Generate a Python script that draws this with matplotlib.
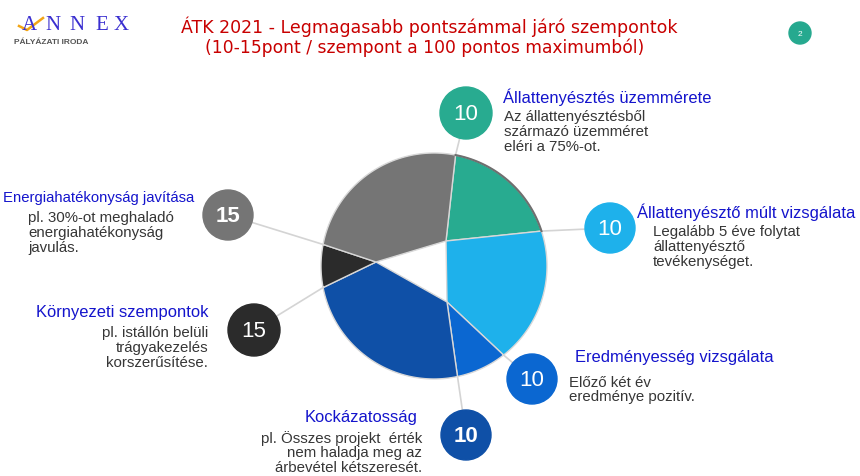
import numpy as np
import matplotlib
matplotlib.use("Agg")
import matplotlib.pyplot as plt
from matplotlib.patches import Circle, Polygon

plt.rcParams['font.family'] = ['Liberation Sans', 'DejaVu Sans']

# adatok
titles = ["Állattenyésztés üzemmérete", "Állattenyésztő múlt vizsgálata",
          "Eredményesség vizsgálata", "Kockázatosság",
          "Környezeti szempontok", "Energiahatékonyság javítása"]
bodies = ["Az állattenyésztésből\nszármazó üzemméret\neléri a 75%-ot.",
          "Legalább 5 éve folytat\nállattenyésztő\ntevékenységet.",
          "Előző két év\neredménye pozitív.",
          "pl. Összes projekt  érték\nnem haladja meg az\nárbevétel kétszeresét.",
          "pl. istállón belüli\ntrágyakezelés\nkorszerűsítése.",
          "pl. 30%-ot meghaladó\nenergiahatékonyság\njavulás."]
points = [10, 10, 10, 10, 15, 15]
slice_deg = [61, 70, 26, 91, 22, 90]   # szeletek szöge a képen
start_deg = 79

colors = ['#28ab90', '#1eb1eb', '#0b67d1', '#0f50a7', '#2b2b2b', '#757575']
bold_num = [False, False, False, True, False, True]

# elrendezés (pixelben)
cx, cy, R = 434, 267, 113
apex_a, apex_b, apex_c = (446, 242), (447, 303), (376, 263)
inner = [[apex_a], [apex_b, apex_a], [apex_b], [apex_c, apex_b],
         [apex_c], [apex_a, apex_c]]
badge_xy = [(466, 114), (610, 229), (532, 380), (466, 436), (254, 331), (228, 216)]
badge_r = [26, 25, 25, 25, 26, 25]
title_xy = [(503, 97, 'left'), (637, 212, 'left'), (575, 358, 'left'),
            (418, 418, 'right'), (209, 313, 'right'), (3, 198, 'left')]
title_fs = [11.85, 11.85, 11.85, 11.85, 11.85, 10.7]
body_xy = [(504, 132, 'left'), (653, 247, 'left'), (569, 390, 'left'),
           (422, 453, 'right'), (208, 348, 'right'), (28, 233, 'left')]

fig = plt.figure(figsize=(8.6, 4.77), dpi=100)
ax = fig.add_axes([0, 0, 1, 1])
ax.set_xlim(0, 860)
ax.set_ylim(477, 0)
ax.axis('off')

def rim(a):
    return (cx + R * np.cos(np.radians(a)), cy - R * np.sin(np.radians(a)))

# szeletek
a0 = start_deg
for i, d in enumerate(slice_deg):
    angs = np.linspace(a0, a0 - d, 60)
    pts = [rim(a) for a in angs] + inner[i]
    ax.add_patch(Polygon(pts, closed=True, facecolor=colors[i],
                         edgecolor='#d8d8d8', lw=1, zorder=2))
    # összekötő vonal a jelvényhez
    bx, by = badge_xy[i]
    rx, ry = rim(a0)
    ax.plot([bx, rx], [by, ry], color='#d4d4d4', lw=1.2, zorder=1)
    a0 -= d

# a felső szelet sötét pereme
angs = np.linspace(start_deg, start_deg - slice_deg[0], 40)
ax.plot([rim(a)[0] for a in angs], [rim(a)[1] for a in angs],
        color='#6f6f6f', lw=1.5, zorder=3)

# jelvények, feliratok
for i in range(len(titles)):
    bx, by = badge_xy[i]
    ax.add_patch(Circle((bx, by), badge_r[i], color=colors[i], zorder=4))
    ax.text(bx, by + 1, str(points[i]), color='white', fontsize=16,
            fontweight='bold' if bold_num[i] else 'normal',
            ha='center', va='center', zorder=5)
    tx, ty, ha = title_xy[i]
    ax.text(tx, ty, titles[i], color='#1414cc', fontsize=title_fs[i],
            ha=ha, va='center')
    x, y, ha = body_xy[i]
    ax.text(x, y, bodies[i], color='#363636', fontsize=10.8, ha=ha,
            va='center', multialignment=ha, linespacing=1.05)

# cím
ax.text(429, 27, "ÁTK 2021 - Legmagasabb pontszámmal járó szempontok",
        family='DejaVu Sans', color='#c80000', fontsize=12.5,
        ha='center', va='center')
ax.text(425, 48, "(10-15pont / szempont a 100 pontos maximumból)",
        family='DejaVu Sans', color='#c80000', fontsize=12.3,
        ha='center', va='center')

# logó
for lx, ch in zip([29, 53, 77, 102, 121], "ANNEX"):
    ax.text(lx, 25, ch, family='Liberation Serif', fontsize=15,
            color='#3a2fd0', ha='center', va='center')
ax.plot([19, 27, 43], [27, 31, 19], color='#f2a516', lw=1.8)
ax.text(14, 43, "PÁLYÁZATI IRODA", fontsize=6, fontweight='bold',
        color='#555555', ha='left', va='center')

# oldalszám
ax.add_patch(Circle((800, 34), 11, color='#26a98f'))
ax.text(800, 34, "2", color='white', fontsize=6, ha='center', va='center')

fig.savefig("out.png", dpi=100)
